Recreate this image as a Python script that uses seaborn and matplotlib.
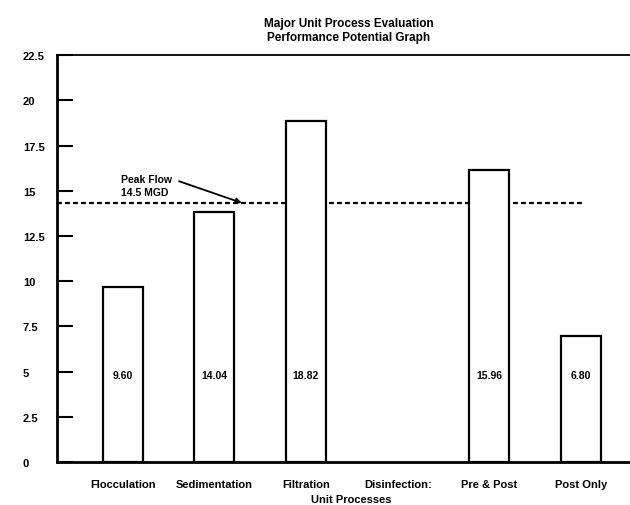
import numpy as np
import pandas as pd
import seaborn as sns
import matplotlib.pyplot as plt

# categories on the x axis (Disinfection: has no bar of its own)
categories = ["Flocculation", "Sedimentation", "Filtration", "Disinfection:", "Pre & Post", "Post Only"]
bar_names = ["Flocculation", "Sedimentation", "Filtration", "Pre & Post", "Post Only"]
bar_heights = [9.66, 13.8, 18.85, 16.13, 6.98]
bar_labels = ["9.60", "14.04", "18.82", "15.96", "6.80"]
peak_flow = 14.33
y_ticks = [0, 2.5, 5, 7.5, 10, 12.5, 15, 17.5, 20, 22.5]
y_tick_labels = ["0", "2.5", "5", "7.5", "10", "12.5", "15", "17.5", "20", "22.5"]

data = pd.DataFrame({"process": bar_names, "capacity": bar_heights})

sns.set_style("white")
plt.rcParams["font.family"] = ["Liberation Sans", "DejaVu Sans"]
plt.rcParams["font.weight"] = "bold"
plt.rcParams["text.color"] = "black"
plt.rcParams["axes.labelcolor"] = "black"
plt.rcParams["xtick.color"] = "black"
plt.rcParams["ytick.color"] = "black"

fig = plt.figure(figsize=(6.3, 5.06), dpi=100)
ax = fig.add_axes([0.0905, 0.085, 0.9095, 0.804])

sns.barplot(data=data, x="process", y="capacity", order=categories,
            color="white", edgecolor="black", linewidth=1.6, width=0.436,
            saturation=1, ax=ax, zorder=3)

# peak flow dashed line, hidden behind the bars
ax.axhline(peak_flow, xmin=0, xmax=0.921, color="black", lw=1.6,
           dashes=(2.2, 1.4), zorder=1)
ax.annotate("Peak Flow\n14.5 MGD", xy=(1.30, peak_flow), xytext=(-0.02, 15.3),
            ha="left", va="center", fontsize=7.5, fontweight="bold", linespacing=1.45,
            arrowprops=dict(arrowstyle="-|>", color="black", lw=1.3,
                            mutation_scale=8, shrinkA=3, shrinkB=0,
                            relpos=(1.0, 0.78)))

# value labels inside bars
for patch, lab in zip(ax.patches, bar_labels):
    ax.text(patch.get_x() + patch.get_width() / 2, 4.8, lab, ha="center",
            va="center", fontsize=7.5, fontweight="bold", zorder=4)

ax.set_xlim(-0.716, 5.535)
ax.set_ylim(0, 22.5)
ax.set_yticks(y_ticks)
ax.set_yticklabels(y_tick_labels)
for t in ax.get_yticklabels():
    t.set_ha("left")
ax.tick_params(axis="y", direction="in", length=11.5, width=1.5, pad=24.5,
               labelsize=8, left=True, colors="black")
ax.tick_params(axis="x", length=0, pad=12, labelsize=8, colors="black")

for side in ["left", "bottom"]:
    ax.spines[side].set_linewidth(2)
    ax.spines[side].set_color("black")
ax.spines["top"].set_linewidth(1.3)
ax.spines["top"].set_color("black")
ax.spines["right"].set_visible(False)

ax.set_ylabel("")
ax.set_xlabel("Unit Processes", fontsize=8, fontweight="bold", color="black")
ax.xaxis.set_label_coords(0.513, -0.078)

fig.text(0.554, 0.965, "Major Unit Process Evaluation\nPerformance Potential Graph",
         ha="center", va="top", fontsize=8.5, fontweight="bold", linespacing=1.25)

fig.savefig("out.png", dpi=100)
